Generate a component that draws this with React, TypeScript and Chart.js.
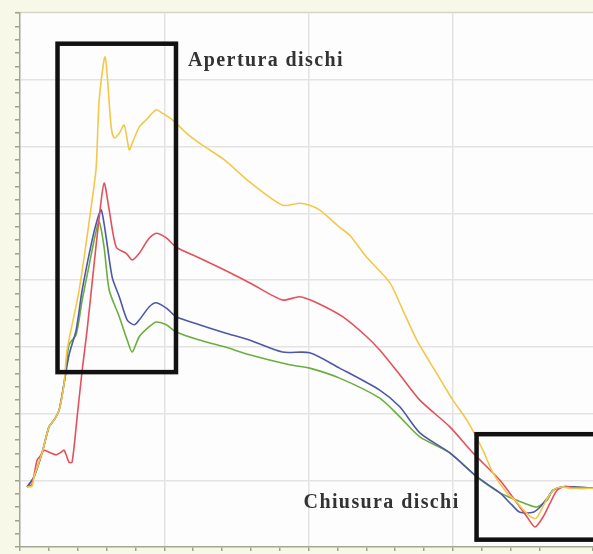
import React, { useEffect, useRef } from "react";
import { Chart, registerables } from "chart.js";

Chart.register(...registerables);

// Series values: [time, value] pairs (arbitrary units)
const yellowSeries: [number, number][] = [
  [4.9, 9.0], [8.3, 9.1], [9.7, 10.5], [15.3, 14.1], [20.1, 18.0], [23.6, 19.0], [27.1, 20.5],
  [30.6, 24.6], [32.6, 29.5], [41.0, 38.5], [50.0, 52.0], [52.8, 56.9], [54.9, 67.0], [59.0, 73.4],
  [63.2, 62.9], [65.3, 61.3], [68.8, 62.0], [72.2, 63.2], [75.7, 59.5], [77.8, 60.5], [82.6, 62.9],
  [87.5, 64.0], [94.4, 65.5], [98.6, 65.0], [105.6, 64.0], [115.3, 62.0], [124.3, 60.5],
  [141.7, 58.0], [159.0, 54.7], [181.9, 51.2], [193.8, 51.5], [200.7, 51.2], [207.6, 50.5],
  [221.5, 47.9], [228.5, 46.7], [240.3, 43.4], [256.3, 39.6], [265.3, 35.5], [275.0, 31.0],
  [284.0, 27.7], [294.4, 24.0], [300.0, 22.0], [309.7, 19.0], [320.8, 14.5], [327.8, 11.1],
  [337.5, 8.1], [343.1, 7.0], [347.9, 5.8], [353.5, 4.6], [357.6, 4.3], [361.8, 5.8],
  [366.0, 7.5], [370.8, 8.7], [375.7, 9.0], [381.3, 8.8], [388.2, 8.8], [397.2, 8.8],
];

const redSeries: [number, number][] = [
  [4.9, 9.0], [8.3, 9.4], [11.8, 13.0], [13.9, 13.6], [16.7, 14.5], [20.1, 14.2], [25.0, 13.8],
  [28.5, 14.2], [30.6, 14.5], [34.0, 12.7], [36.1, 12.7], [39.6, 19.5], [43.1, 26.5], [46.5, 32.5],
  [50.0, 39.6], [54.9, 49.4], [58.3, 54.5], [61.8, 50.5], [66.7, 44.9], [73.6, 44.0], [77.8, 43.0],
  [82.6, 44.0], [89.6, 46.3], [94.4, 47.0], [101.4, 46.3], [108.3, 44.9], [124.3, 43.3],
  [141.7, 41.5], [159.0, 39.6], [181.9, 37.0], [193.8, 37.5], [205.6, 36.6], [223.6, 34.5],
  [240.3, 31.5], [249.3, 29.5], [263.2, 25.8], [277.1, 22.0], [297.9, 18.0], [313.9, 14.1],
  [332.6, 10.0], [344.4, 6.6], [351.4, 4.5], [356.9, 3.0], [362.5, 4.5], [367.4, 6.6],
  [372.2, 8.5], [377.8, 9.1], [384.7, 8.8], [397.2, 8.8],
];

const blueSeries: [number, number][] = [
  [4.9, 9.0], [9.7, 10.5], [15.3, 14.1], [20.1, 18.0], [23.6, 19.0], [27.1, 20.5], [30.6, 24.6],
  [34.0, 28.8], [38.9, 32.5], [43.1, 38.5], [50.0, 46.0], [53.5, 49.0], [56.3, 50.5], [59.7, 46.4],
  [63.9, 40.4], [68.8, 37.5], [74.3, 34.0], [79.2, 33.3], [82.6, 34.0], [89.6, 36.0], [94.4, 36.6],
  [101.4, 35.8], [108.3, 34.5], [124.3, 33.3], [141.7, 32.1], [159.0, 31.0], [181.9, 29.2],
  [200.7, 29.1], [221.5, 26.8], [249.3, 23.5], [263.2, 21.0], [277.1, 17.1], [297.9, 14.1],
  [316.7, 10.5], [332.6, 8.1], [340.9, 6.3], [346.5, 5.2], [355.6, 5.2], [360.4, 6.0],
  [365.3, 7.3], [369.4, 8.5], [375.7, 9.0], [384.7, 9.0], [397.2, 8.8],
];

const greenSeries: [number, number][] = [
  [4.9, 9.0], [9.7, 10.5], [15.3, 14.1], [20.1, 18.0], [23.6, 19.0], [27.1, 20.5], [30.6, 24.6],
  [34.0, 30.3], [38.9, 31.8], [43.1, 37.0], [47.9, 42.2], [52.1, 46.7], [54.9, 48.7], [58.3, 44.9],
  [61.8, 38.5], [68.8, 34.5], [74.3, 31.0], [77.8, 29.2], [82.6, 31.5], [89.6, 33.0], [94.4, 33.7],
  [101.4, 33.3], [108.3, 32.2], [124.3, 31.0], [141.7, 30.0], [159.0, 28.8], [186.8, 27.3],
  [200.7, 26.8], [221.5, 25.3], [249.3, 22.3], [263.2, 19.5], [277.1, 16.5], [297.9, 14.1],
  [316.7, 10.5], [332.6, 8.1], [344.4, 7.0], [351.4, 6.4], [358.3, 6.0], [365.3, 7.0],
  [369.4, 8.5], [375.7, 9.0], [384.7, 9.0], [397.2, 8.8],
];

const seriesNames = ["Serie 1", "Serie 2", "Serie 3", "Serie 4"];
const annotationLabels = ["Apertura dischi", "Chiusura dischi"];

const X_MIN = 0;
const X_MAX = 397.1;
const Y_MIN = 0;
const Y_MAX = 80;

const toPoints = (s: [number, number][]) => s.map(([x, y]) => ({ x, y }));

const decorPlugin = {
  id: "decor",
  beforeDraw(chart: any) {
    const { ctx, chartArea, width, height } = chart;
    ctx.save();
    ctx.fillStyle = "#f8f8e9";
    ctx.fillRect(0, 0, width, height);
    ctx.fillStyle = "#fdfdfd";
    ctx.fillRect(chartArea.left, chartArea.top, chartArea.right - chartArea.left, chartArea.bottom - chartArea.top);
    ctx.strokeStyle = "#d6d6c6";
    ctx.lineWidth = 1.5;
    ctx.beginPath();
    ctx.moveTo(chartArea.left - 4, chartArea.top - 0.5);
    ctx.lineTo(width, chartArea.top - 0.5);
    ctx.stroke();
    ctx.restore();
  },
  afterDatasetsDraw(chart: any) {
    const { ctx, scales } = chart;
    const xs = scales.x;
    const ys = scales.y;
    const boxes = [
      { x0: 26.0, x1: 108.1, y0: 75.4, y1: 26.2 },
      { x0: 316.4, x1: 402, y0: 16.9, y1: 1.1 },
    ];
    ctx.save();
    ctx.strokeStyle = "#111111";
    ctx.lineWidth = 4.5;
    boxes.forEach((b) => {
      const l = xs.getPixelForValue(b.x0);
      const r = xs.getPixelForValue(b.x1);
      const t = ys.getPixelForValue(b.y0);
      const bt = ys.getPixelForValue(b.y1);
      ctx.strokeRect(l, t, r - l, bt - t);
    });
    ctx.fillStyle = "#333333";
    ctx.font = "bold 20px 'Liberation Serif', serif";
    (ctx as any).letterSpacing = "1.4px";
    ctx.textBaseline = "alphabetic";
    ctx.textAlign = "left";
    const labels = [
      { text: annotationLabels[0], x: 116.4, y: 72.1 },
      { text: annotationLabels[1], x: 196.5, y: 5.8 },
    ];
    labels.forEach((lb) => {
      ctx.fillText(lb.text, xs.getPixelForValue(lb.x), ys.getPixelForValue(lb.y));
    });
    ctx.restore();
  },
};

export default function App() {
  const ref = useRef<HTMLCanvasElement>(null);
  useEffect(() => {
    if (!ref.current) return;
    const lw = 1.6;
    const chart = new Chart(ref.current, {
      type: "line",
      data: {
        datasets: [
          { label: seriesNames[0], data: toPoints(yellowSeries), borderColor: "#f3c84a", borderWidth: lw },
          { label: seriesNames[1], data: toPoints(redSeries), borderColor: "#e4505c", borderWidth: lw },
          { label: seriesNames[2], data: toPoints(blueSeries), borderColor: "#4d58a6", borderWidth: lw },
          { label: seriesNames[3], data: toPoints(greenSeries), borderColor: "#6cae3e", borderWidth: lw },
        ],
      },
      options: {
        animation: false,
        responsive: false,
        parsing: false as any,
        elements: { point: { radius: 0 }, line: { tension: 0.25 } },
        layout: { padding: { left: 15, top: 13, right: 0, bottom: 3 } },
        plugins: { legend: { display: false }, tooltip: { enabled: false } },
        scales: {
          x: {
            type: "linear",
            min: X_MIN,
            max: X_MAX,
            ticks: { display: false, stepSize: 20 },
            grid: {
              color: (c: any) => (c.tick && Math.abs(c.tick.value % 100) < 0.01 && c.tick.value > 0 ? "#e3e3e3" : "transparent"),
              lineWidth: 1.5,
              tickColor: "#9ea38c",
              tickLength: 4,
            },
            border: { display: true, color: "#a3a892", width: 1.5 },
          },
          y: {
            type: "linear",
            min: Y_MIN,
            max: Y_MAX,
            ticks: { display: false, stepSize: 2 },
            grid: {
              color: (c: any) => (c.tick && Math.abs(c.tick.value % 10) < 0.01 && c.tick.value > 0 && c.tick.value < 80 ? "#e3e3e3" : "transparent"),
              lineWidth: 1.5,
              tickColor: "#9ea38c",
              tickLength: 5,
            },
            border: { display: true, color: "#a3a892", width: 1.5 },
          },
        },
      },
      plugins: [decorPlugin],
    });
    return () => chart.destroy();
  }, []);
  return (
    <div style={{ position: "fixed", left: 0, top: 0, width: 593, height: 554, overflow: "hidden" }}>
      <canvas ref={ref} width={593} height={554} />
    </div>
  );
}
